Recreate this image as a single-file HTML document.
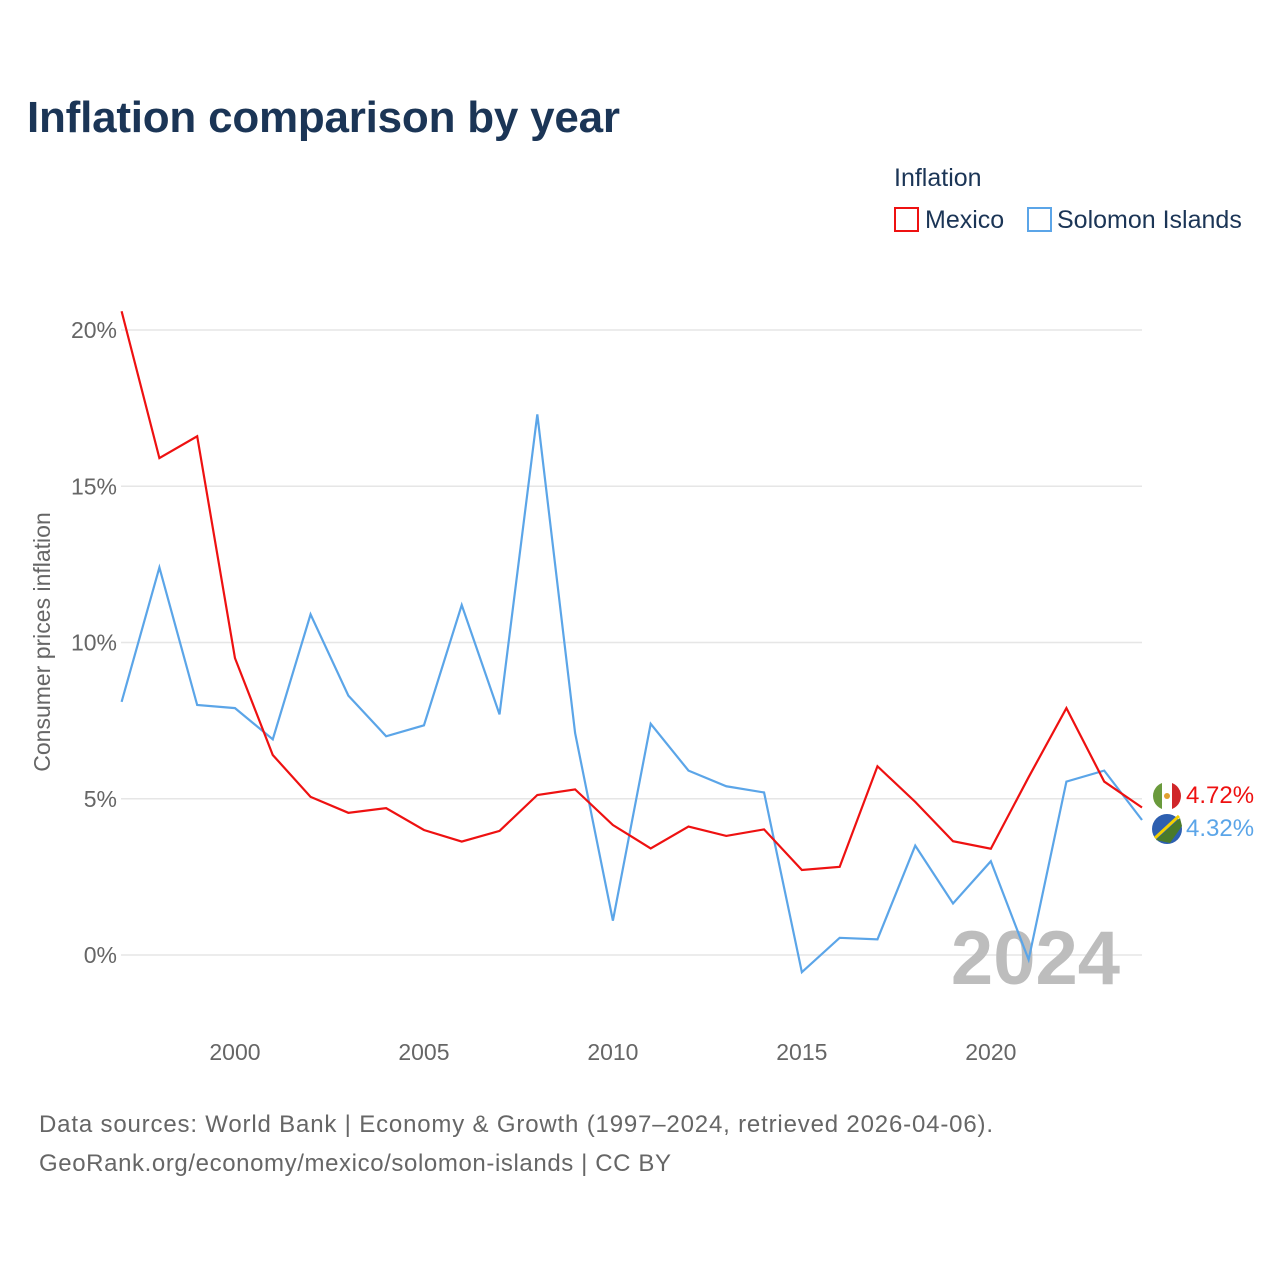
<!DOCTYPE html>
<html><head><meta charset="utf-8"><style>
body{margin:0;background:#fff;font-family:"Liberation Sans",sans-serif;}
svg{display:block}
</style></head><body>
<svg id="chart" width="1280" height="1280" viewBox="0 0 1280 1280">
<defs><clipPath id="mxc"><circle cx="1167" cy="796" r="14"/></clipPath></defs>
<text x="27" y="132" font-size="44" font-weight="bold" fill="#1b3556" textLength="593">Inflation comparison by year</text>
<text x="894" y="186" font-size="25" fill="#1b3556">Inflation</text>
<g><rect x="895" y="208" width="23" height="23" fill="none" stroke="#ee1111" stroke-width="2"/><text x="925" y="228" font-size="25" fill="#1b3556">Mexico</text></g>
<g><rect x="1028" y="208" width="23" height="23" fill="none" stroke="#5ba5e8" stroke-width="2"/><text x="1057" y="228" font-size="25" fill="#1b3556">Solomon Islands</text></g>
<text transform="translate(50,642) rotate(-90)" text-anchor="middle" font-size="23" fill="#666">Consumer prices inflation</text>
<g id="grid"></g><g id="xt"></g>
<text x="1120" y="984" text-anchor="end" font-size="76" font-weight="bold" fill="#bdbdbd">2024</text>
<g id="lines"></g>
<g>
<g clip-path="url(#mxc)"><rect x="1153" y="782" width="28" height="28" fill="#fff"/><rect x="1153" y="782" width="9" height="28" fill="#6a9a3c"/><rect x="1172" y="782" width="9" height="28" fill="#d0262a"/><circle cx="1167" cy="796" r="3" fill="#e0a030"/></g>
<circle cx="1167" cy="829" r="15" fill="#2d5fb0"/><path d="M1156 840 L1180 818 L1182 826 L1170 843 Z" fill="#4a7a2a"/><path d="M1155 838 L1179 816" stroke="#f4d000" stroke-width="3"/>
<text x="1186" y="803" font-size="24" fill="#ee1111">4.72%</text>
<text x="1186" y="836" font-size="24" fill="#5ba5e8">4.32%</text>
</g>
<text x="39" y="1132" font-size="24" fill="#666" textLength="954">Data sources: World Bank | Economy &amp; Growth (1997–2024, retrieved 2026-04-06).</text>
<text x="39" y="1171" font-size="24" fill="#666" textLength="632">GeoRank.org/economy/mexico/solomon-islands | CC BY</text>
</svg>
<script>
const years=[1997,1998,1999,2000,2001,2002,2003,2004,2005,2006,2007,2008,2009,2010,2011,2012,2013,2014,2015,2016,2017,2018,2019,2020,2021,2022,2023,2024];
const mexico=[20.6,15.9,16.6,9.5,6.4,5.06,4.55,4.7,4.0,3.63,3.97,5.12,5.3,4.16,3.41,4.11,3.81,4.02,2.72,2.82,6.04,4.9,3.64,3.4,5.69,7.9,5.55,4.72];
const solomon=[8.1,12.4,8.0,7.9,6.9,10.9,8.3,7.0,7.35,11.2,7.7,17.3,7.1,1.1,7.4,5.9,5.4,5.2,-0.55,0.55,0.5,3.5,1.65,3.0,-0.15,5.55,5.9,4.32];
const yTicks=[0,5,10,15,20];
const xTicks=[2000,2005,2010,2015,2020];
const NS="http://www.w3.org/2000/svg";
const xs=y=>121.6+(y-1997)*(1142-121.6)/27;
const ys=v=>955-v*31.25;
const grid=document.getElementById('grid');
yTicks.forEach(t=>{
 const l=document.createElementNS(NS,'line');
 l.setAttribute('x1',121);l.setAttribute('x2',1142);l.setAttribute('y1',ys(t));l.setAttribute('y2',ys(t));
 l.setAttribute('stroke','#e6e6e6');l.setAttribute('stroke-width','1.5');
 
 
 grid.appendChild(l);
 const tx=document.createElementNS(NS,'text');
 tx.setAttribute('x',117);tx.setAttribute('y',ys(t)+8);tx.setAttribute('text-anchor','end');
 tx.setAttribute('font-size','23');tx.setAttribute('fill','#666');tx.textContent=t+'%';
 
 
 grid.appendChild(tx);
});
const xt=document.getElementById('xt');
xTicks.forEach(t=>{
 const tx=document.createElementNS(NS,'text');
 tx.setAttribute('x',xs(t));tx.setAttribute('y',1060);tx.setAttribute('text-anchor','middle');
 tx.setAttribute('font-size','23');tx.setAttribute('fill','#666');tx.textContent=t;
 
 
 xt.appendChild(tx);
});
const lines=document.getElementById('lines');
function draw(vals,color,name){
 const p=document.createElementNS(NS,'polyline');
 p.setAttribute('points',vals.map((v,i)=>xs(years[i])+','+ys(v)).join(' '));
 p.setAttribute('fill','none');p.setAttribute('stroke',color);p.setAttribute('stroke-width','2.2');
 
 
 lines.appendChild(p);
}
draw(solomon,'#5ba5e8','solomon-islands-line');
draw(mexico,'#ee1111','mexico-line');
</script>
</body></html>
